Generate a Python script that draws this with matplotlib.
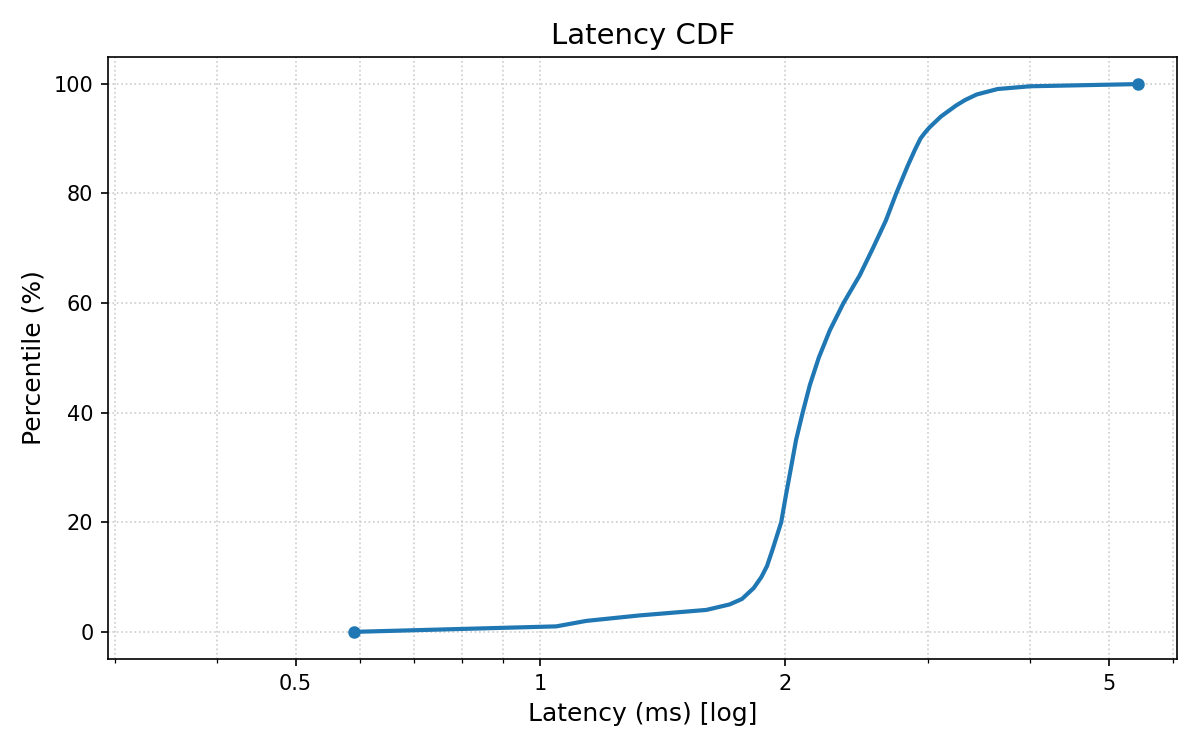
import matplotlib
matplotlib.use("Agg")
import matplotlib.pyplot as plt
from matplotlib.ticker import LogLocator, NullFormatter

# Data: latency (ms) at each percentile
percentiles = [0, 1, 2, 3, 4, 5, 6, 8, 10, 12, 15, 20, 25, 30, 35, 40, 45, 50,
               55, 60, 65, 70, 75, 80, 85, 88, 90, 91, 92, 94, 96, 97, 98, 99, 99.5, 99.9]
latency_ms = [0.59, 1.046, 1.139, 1.325, 1.60, 1.709, 1.77, 1.83, 1.87, 1.90,
              1.93, 1.978, 2.005, 2.034, 2.063, 2.102, 2.145, 2.20,
              2.27, 2.36, 2.47, 2.565, 2.66, 2.74, 2.83, 2.89, 2.935, 2.97, 3.01, 3.11,
              3.246, 3.33, 3.44, 3.65, 4.0, 5.43]

major_ticks = [0.5, 1, 2, 5]
major_labels = ["0.5", "1", "2", "5"]

fig, ax = plt.subplots(figsize=(8, 5), dpi=150)
fig.subplots_adjust(left=0.090, right=0.981, top=0.9244, bottom=0.121)

ax.plot(latency_ms, percentiles, color="#1f77b4", linewidth=2,
        marker="o", markersize=5, markevery=[0, len(latency_ms) - 1])

ax.set_xscale("log")
ax.set_xlim(0.294, 6.07)
ax.set_xticks(major_ticks)
ax.set_xticklabels(major_labels)
ax.xaxis.set_minor_locator(LogLocator(base=10, subs=[1, 2, 3, 4, 5, 6, 7, 8, 9], numticks=20))
ax.xaxis.set_minor_formatter(NullFormatter())

ax.grid(True, which="both", axis="x", linestyle=":", color="#cccccc", linewidth=0.8)
ax.grid(True, which="major", axis="y", linestyle=":", color="#cccccc", linewidth=0.8)

ax.set_title("Latency CDF", fontsize=14)
ax.set_xlabel("Latency (ms) [log]", fontsize=12)
ax.set_ylabel("Percentile (%)", fontsize=12)
ax.tick_params(axis="both", which="major", labelsize=10)

fig.savefig("out.png", dpi=150)
